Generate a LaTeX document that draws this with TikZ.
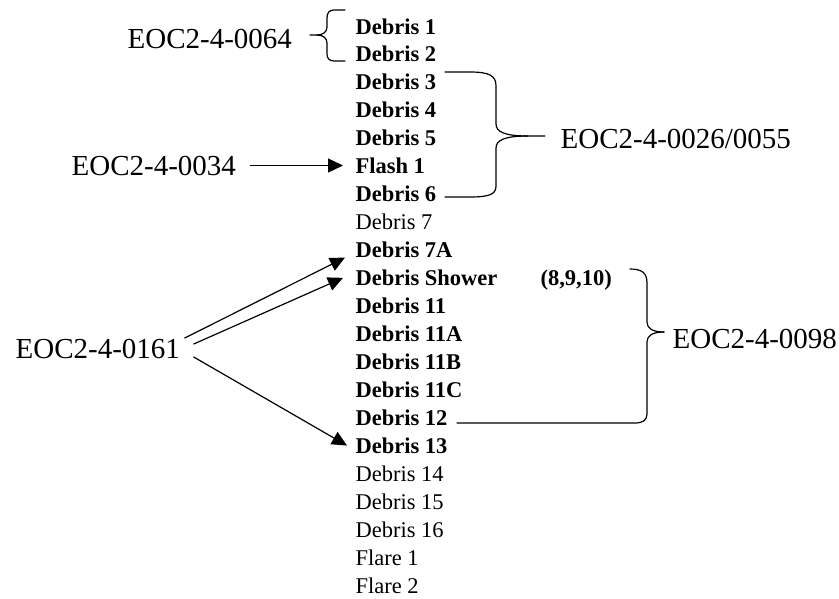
\documentclass[tikz,border=0pt]{standalone}
\usepackage{fontspec}
\setmainfont{Liberation Serif}
\usetikzlibrary{arrows.meta, calc}

\begin{document}
\begin{tikzpicture}[
    x=1pt, y=-1pt, line width=1.2pt,
    item/.style={anchor=base west, inner sep=0pt, font=\fontsize{22.5}{27}\selectfont\bfseries},
    plain/.style={anchor=base west, inner sep=0pt, font=\fontsize{22.5}{27}\selectfont},
    eoc/.style={anchor=base west, inner sep=0pt, font=\fontsize{29}{34}\selectfont},
    brace/.style={line join=round, line cap=round},
    arr/.style={-{Triangle[length=15pt,width=14pt]}}
]
\useasboundingbox (0,0) rectangle (839,598);

% List
\node[item] (d1) at (355, 34) {Debris 1};
\node[item] (d2) at (355, 61.95) {Debris 2};
\node[item] (d3) at (355, 89.9) {Debris 3};
\node[item] (d4) at (355, 117.85) {Debris 4};
\node[item] (d5) at (355, 145.8) {Debris 5};
\node[item] (f1) at (355, 173.75) {Flash 1};
\node[item] (d6) at (355, 201.7) {Debris 6};
\node[plain] (d7) at (355, 229.65) {Debris 7};
\node[item] (d7a) at (355, 257.6) {Debris 7A};
\node[item] (dsh) at (355, 285.55) {Debris Shower};
\node[item] (n8910) at (540, 285.55) {(8,9,10)};
\node[item] (d11) at (355, 313.5) {Debris 11};
\node[item] (d11a) at (355, 341.45) {Debris 11A};
\node[item] (d11b) at (355, 369.4) {Debris 11B};
\node[item] (d11c) at (355, 397.35) {Debris 11C};
\node[item] (d12) at (355, 425.3) {Debris 12};
\node[item] (d13) at (355, 453.25) {Debris 13};
\node[plain] (d14) at (355, 481.2) {Debris 14};
\node[plain] (d15) at (355, 509.15) {Debris 15};
\node[plain] (d16) at (355, 537.1) {Debris 16};
\node[plain] (fl1) at (355, 565.05) {Flare 1};
\node[plain] (fl2) at (355, 593) {Flare 2};

% Labels
\node[eoc] (e64) at (127, 48) {EOC2-4-0064};
\node[eoc] (e34) at (71, 175) {EOC2-4-0034};
\node[eoc] (e26) at (560, 148) {EOC2-4-0026/0055};
\node[eoc] (e161) at (15, 358) {EOC2-4-0161};
\node[eoc] (e98) at (672, 348) {EOC2-4-0098};

% Brace tips
\coordinate (t64) at (310, 35);
\coordinate (t26) at (545, 136);
\coordinate (t98) at (664, 332);

% Braces
\draw[brace] (345,10) -- (334,10) .. controls (329,10) and (327,13) .. (327,18) -- (327,27)
    .. controls (327,32) and (323,35) .. (317,35) -- (t64);
\draw[brace] (317,35) .. controls (323,35) and (327,38) .. (327,43) -- (327,54)
    .. controls (327,58) and (329,61) .. (334,61) -- (345,61);

\draw[brace] (445,72) -- (470,72) .. controls (490,72) and (496,76) .. (496,86) -- (496,124)
    .. controls (496,132) and (505,136) .. (528,136) -- (t26);
\draw[brace] (528,136) .. controls (505,136) and (496,140) .. (496,148) -- (496,186)
    .. controls (496,194) and (490,197) .. (470,197) -- (445,197);

\draw[brace] (630,269) .. controls (642,269) and (647,273) .. (647,283) -- (647,322)
    .. controls (647,328) and (652,332) .. (t98);
\draw[brace] (t98) .. controls (652,332) and (647,336) .. (647,342) -- (647,414)
    .. controls (647,420) and (643,423) .. (635,423) -- (457,423);

% Arrows
\draw[arr] ([xshift=13pt]e34.east) -- ([xshift=-12pt]e34.east -| f1.west);
\draw[arr] ([xshift=4pt]e161.north east) -- ([xshift=-10pt]d7a.base west);
\draw[arr] ([xshift=13pt,yshift=-6pt]e161.north east) -- ([xshift=-12pt]dsh.west);
\draw[arr] ([xshift=13pt,yshift=2pt]e161.south east) -- ([xshift=-8pt]d13.west);

\end{tikzpicture}
\end{document}
